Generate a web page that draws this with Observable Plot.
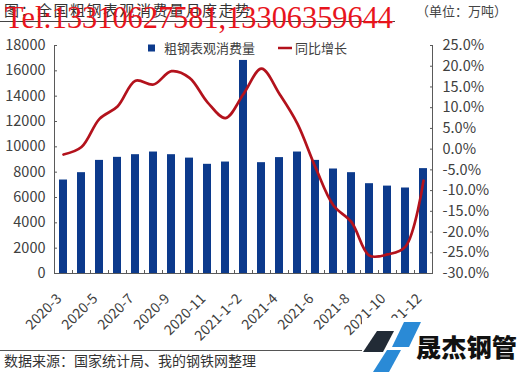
<!DOCTYPE html>
<html><head><meta charset="utf-8">
<script src="https://cdn.jsdelivr.net/npm/d3@7"></script>
<script src="https://cdn.jsdelivr.net/npm/@observablehq/plot@0.6"></script>
<style>
body{margin:0;background:#fff;}
#wrap{position:relative;width:520px;height:372px;overflow:hidden;font-family:"Noto Sans CJK SC","Noto Sans",sans-serif;}
#wrap > svg{position:absolute;left:0;top:0;}
#deco{pointer-events:none;}
</style></head><body><div id="wrap"></div>
<script>
const categories = ["2020-3","2020-4","2020-5","2020-6","2020-7","2020-8","2020-9","2020-10","2020-11","2020-12","2021-1~2","2021-3","2021-4","2021-5","2021-6","2021-7","2021-8","2021-9","2021-10","2021-11","2021-12"];
const consumption = [7380,7960,8930,9170,9380,9590,9380,9110,8620,8800,16820,8750,9150,9590,8930,8250,7960,7090,6900,6750,8280];
const yoyPct = [-1.3,0.5,7.3,10.3,16.5,15.6,18.8,17.2,11.3,7.5,13.3,19.4,13.3,6.1,-4.4,-13.6,-17.6,-25.7,-25.4,-23.5,-7.6];
const xTickLabels = ["2020-3","2020-5","2020-7","2020-9","2020-11","2021-1~2","2021-4","2021-6","2021-8","2021-10","2021-12"];
const leftTicks = [0,2000,4000,6000,8000,10000,12000,14000,16000,18000];
const rightTicks = [-30,-25,-20,-15,-10,-5,0,5,10,15,20,25];
const leftDomain = [0,18000];
const rightDomain = [-30,25];

const toLeft = p => (p - rightDomain[0]) / (rightDomain[1] - rightDomain[0]) * (leftDomain[1] - leftDomain[0]) + leftDomain[0];
const fromLeft = v => (v - leftDomain[0]) / (leftDomain[1] - leftDomain[0]) * (rightDomain[1] - rightDomain[0]) + rightDomain[0];

const rows = categories.map((c, i) => ({month: c, value: consumption[i], yoy: yoyPct[i], yoyY: toLeft(yoyPct[i])}));
const axisColor = "#5a5a5a";
const textColor = "#404040";
const barColor = "#0c3a8c";
const lineColor = "#b3121c";
const font = '"Noto Sans CJK SC","Noto Sans",sans-serif';

const pctFormat = v => {
  const p = Math.round(fromLeft(v) * 10) / 10;
  return (p === 0 ? 0 : p).toFixed(1) + "%";
};

const chart = Plot.plot({
  width: 520, height: 372,
  marginTop: 45, marginBottom: 99, marginLeft: 54, marginRight: 88,
  style: {fontFamily: font, fontSize: "14.5px", color: textColor, background: "transparent"},
  x: {type: "band", domain: categories, paddingInner: 0.58, paddingOuter: 0.29, axis: null},
  y: {domain: leftDomain, axis: null},
  marks: [
    Plot.barY(rows, {x: "month", y: "value", fill: barColor}),
    Plot.line(rows, {x: "month", y: "yoyY", stroke: lineColor, strokeWidth: 2.7, curve: "catmull-rom"}),
    Plot.ruleY([0], {stroke: axisColor}),
    Plot.ruleX([categories[0]], {x: d => d, dx: -9, stroke: axisColor}),
    Plot.ruleX([categories[categories.length - 1]], {x: d => d, dx: 9, stroke: axisColor}),
    Plot.ruleX(categories, {x: d => d, dx: 9, insetTop: 225, stroke: axisColor}),
    Plot.axisY(leftTicks, {anchor: "left", tickSize: -3, tickPadding: 12, stroke: axisColor, fill: textColor, fontSize: 14.5, tickFormat: d => String(d)}),
    Plot.axisY(rightTicks.map(toLeft), {anchor: "right", tickSize: -3, tickPadding: 13, stroke: axisColor, fill: textColor, fontSize: 14.5, tickFormat: pctFormat}),
    Plot.text(xTickLabels, {x: d => d, text: d => d, frameAnchor: "bottom", rotate: -45, textAnchor: "end", lineAnchor: "bottom", dy: 26, dx: -1, fill: textColor, fontSize: 14})
  ]
});
document.getElementById("wrap").appendChild(chart);

const ns = "http://www.w3.org/2000/svg";
const deco = document.createElementNS(ns, "svg");
deco.setAttribute("id", "deco");
deco.setAttribute("width", 520);
deco.setAttribute("height", 372);
deco.innerHTML = `
  <text x="4" y="16" font-size="15" fill="#333" font-family='${font}' textLength="246" lengthAdjust="spacing">图：全国粗钢表观消费量月度走势</text>
  <text x="416" y="16" font-size="13" fill="#444" font-family='${font}'>（单位：万吨）</text>
  <line x1="0" x2="395" y1="21.5" y2="21.5" stroke="#444" stroke-width="1"/>
  <text x="5" y="28" font-size="31" fill="#e8141c" font-family='"Liberation Serif","DejaVu Serif",serif' textLength="388" lengthAdjust="spacingAndGlyphs">Tel:13310627581,13306359644</text>
  <rect x="148" y="44.5" width="7" height="7" fill="${barColor}"/>
  <text x="164" y="52.5" font-size="13" fill="${textColor}" font-family='${font}'>粗钢表观消费量</text>
  <line x1="278" x2="292" y1="48" y2="48" stroke="${lineColor}" stroke-width="2.5"/>
  <text x="295" y="52.5" font-size="13" fill="${textColor}" font-family='${font}'>同比增长</text>
  <line x1="0" x2="520" y1="350.5" y2="350.5" stroke="#555" stroke-width="1"/>
  <text x="4" y="366" font-size="14" fill="#333" font-family='${font}'>数据来源：国家统计局、我的钢铁网整理</text>
  <rect x="362" y="318" width="158" height="54" fill="#fff"/>
  <polygon points="377,331 394,331 383,352 363,352" fill="#222b36"/>
  <polygon points="404,322 421,322 409,347 392,347" fill="#2a8ad6"/>
  <polygon points="387,350 401,350 389,372 373,372" fill="#2a8ad6"/>
  <text x="416" y="357" font-size="25" font-weight="900" fill="#111" font-family='${font}' textLength="101" lengthAdjust="spacingAndGlyphs">晟杰钢管</text>
`;
document.getElementById("wrap").appendChild(deco);
</script>
</body></html>
